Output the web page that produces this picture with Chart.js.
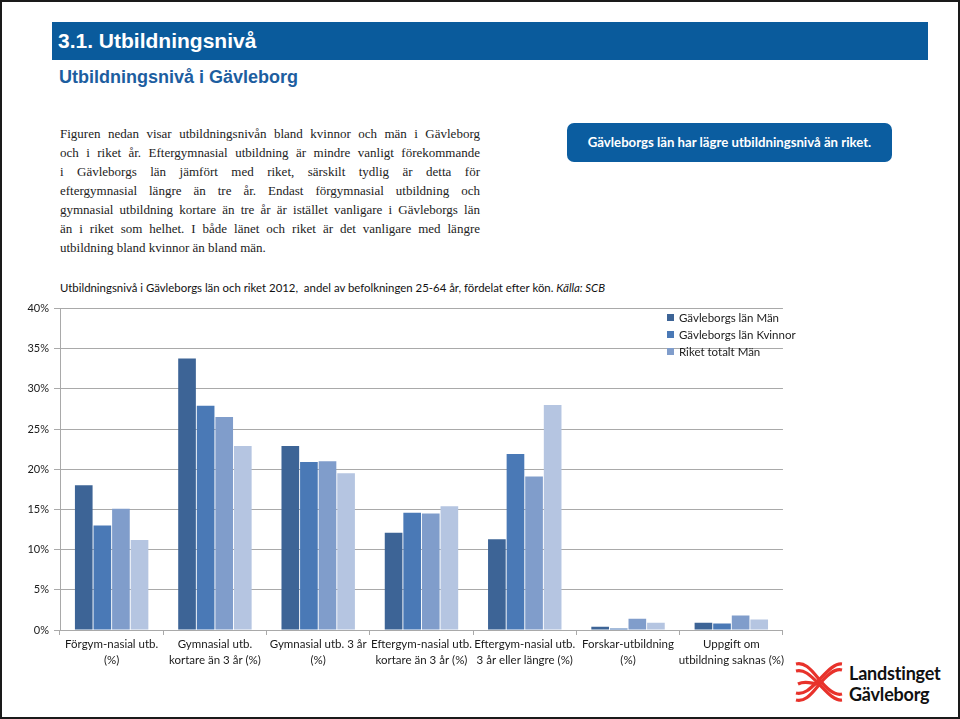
<!DOCTYPE html>
<html lang="sv">
<head>
<meta charset="UTF-8" />
<title>Utbildningsnivå i Gävleborg</title>
<script src="https://cdn.jsdelivr.net/npm/chart.js"></script>
<style>
    html, body { margin: 0; padding: 0; background: #fff; }
    .page {
        position: relative;
        width: 956px;
        height: 715px;
        border: 2px solid #1a1a1a;
        overflow: hidden;
        font-family: Lato, 'Liberation Sans', sans-serif;
    }
    .topbar {
        position: absolute; left: 50px; top: 20px; width: 876px; height: 38px;
        background: #0a5b9c;
        color: #fff;
        font-family: 'Liberation Sans Narrow', 'Liberation Sans', sans-serif;
        font-weight: 700;
        font-size: 21px;
        line-height: 38px;
        padding-left: 6px;
        box-sizing: border-box;
    }
    .subtitle {
        position: absolute; left: 57px; top: 65px;
        color: #1d5e9f;
        font-family: 'Liberation Sans Narrow', 'Liberation Sans', sans-serif;
        font-weight: 700;
        font-size: 18px;
    }
    .para {
        position: absolute; left: 58px; top: 122px; width: 420px;
        font-family: 'Liberation Serif', 'DejaVu Serif', serif;
        font-size: 13px;
        line-height: 19px;
        color: #222;
    }
    .para div { text-align: justify; text-align-last: justify; white-space: nowrap; }
    .para div.last { text-align-last: left; }
    .callout {
        position: absolute; left: 565px; top: 121px; width: 325px; height: 39px;
        background: #0b5da0;
        border-radius: 7px;
        color: #fff;
        font-weight: 700;
        font-size: 13.2px;
        line-height: 39px;
        text-align: center;
    }
    .ctitle {
        position: absolute; left: 58px; top: 279px;
        font-size: 11.4px;
        color: #111;
        white-space: nowrap;
    }
    .chartbox { position: absolute; left: 20px; top: 295px; width: 764px; height: 383px; }
    .legend { position: absolute; left: 665px; top: 307px; font-size: 11.5px; color: #222; }
    .legend div { height: 17px; line-height: 17px; white-space: nowrap; }
    .legend span.sw { display: inline-block; width: 7px; height: 7px; margin-right: 5px; vertical-align: 1px; }
    .logo { position: absolute; left: 792px; top: 658px; }
    .logotext {
        position: absolute; left: 847px; top: 661px;
        font-family: Lato, 'Liberation Sans', sans-serif;
        font-weight: 700; font-size: 18px; line-height: 21px; color: #111;
        letter-spacing: -0.2px;
    }
</style>
</head>
<body>
<div class="page">
    <div class="topbar">3.1. Utbildningsnivå</div>
    <div class="subtitle">Utbildningsnivå i Gävleborg</div>

    <div class="para">
        <div>Figuren nedan visar utbildningsnivån bland kvinnor och män i Gävleborg</div>
        <div>och i riket år. Eftergymnasial utbildning är mindre vanligt förekommande</div>
        <div>i Gävleborgs län jämfört med riket, särskilt tydlig är detta för</div>
        <div>eftergymnasial längre än tre år. Endast förgymnasial utbildning och</div>
        <div>gymnasial utbildning kortare än tre år är istället vanligare i Gävleborgs län</div>
        <div>än i riket som helhet. I både länet och riket är det vanligare med längre</div>
        <div class="last">utbildning bland kvinnor än bland män.</div>
    </div>

    <div class="callout">Gävleborgs län har lägre utbildningsnivå än riket.</div>

    <div class="ctitle">Utbildningsnivå i Gävleborgs län och riket 2012,&nbsp; andel av befolkningen 25-64 år, fördelat efter kön. <i>Källa: SCB</i></div>

    <div class="chartbox"><canvas id="chart" width="764" height="383"></canvas></div>
    <div class="legend" id="legend"></div>

    <svg class="logo" width="50" height="46" viewBox="0 0 50 46">
        <g fill="none" stroke="#e8322b" stroke-width="3.2">
            <path d="M2 4 C10 2 16 8 24 18 C32 28 40 36 48 34" />
            <path d="M2 11 C10 9 16 15 24 23 C32 31 40 41 48 40" />
            <path d="M2 40 C10 42 16 36 24 26 C32 16 40 8 48 10" />
            <path d="M2 33 C10 35 16 29 24 21 C32 13 40 3 48 4" />
            <path d="M4 24 C12 20 18 24 24 24" />
        </g>
    </svg>
    <div class="logotext">Landstinget<br>Gävleborg</div>
</div>

<script>
    // categories (two-line labels as on the x axis)
    const categories = [
        ['Förgym-nasial utb.', '(%)'],
        ['Gymnasial utb.', 'kortare än 3 år (%)'],
        ['Gymnasial utb. 3 år', '(%)'],
        ['Eftergym-nasial utb.', 'kortare än 3 år (%)'],
        ['Eftergym-nasial utb.', '3 år eller längre (%)'],
        ['Forskar-utbildning', '(%)'],
        ['Uppgift om', 'utbildning saknas (%)']
    ];

    // values in percent
    const gavleMan    = [18.0, 33.8, 22.9, 12.1, 11.3, 0.4, 0.9];
    const gavleKvinna = [13.0, 27.9, 20.9, 14.6, 21.9, 0.2, 0.8];
    const riketMan    = [15.1, 26.5, 21.0, 14.5, 19.1, 1.4, 1.8];
    const riketKvinna = [11.2, 22.9, 19.5, 15.4, 28.0, 0.9, 1.3];

    const seriesLabels = ['Gävleborgs län Män', 'Gävleborgs län Kvinnor', 'Riket totalt Män', 'Riket totalt Kvinnor'];
    const seriesColors = ['#3d6496', '#4a79b6', '#809dcb', '#b5c5e1'];
    const yTicks = [0, 5, 10, 15, 20, 25, 30, 35, 40];

    const allSeries = [gavleMan, gavleKvinna, riketMan, riketKvinna];
    const datasets = allSeries.map((d, i) => ({
        label: seriesLabels[i],
        data: d,
        backgroundColor: seriesColors[i],
        borderWidth: 0,
        categoryPercentage: 0.72,
        barPercentage: 0.95
    }));

    const gridColor = '#a9a9a9';
    const ctx = document.getElementById('chart').getContext('2d');
    const chart = new Chart(ctx, {
        type: 'bar',
        data: { labels: categories, datasets: datasets },
        options: {
            responsive: false,
            animation: false,
            layout: { padding: { top: 8, right: 0, left: 0, bottom: 0 } },
            plugins: { legend: { display: false }, tooltip: { enabled: false } },
            scales: {
                x: {
                    grid: { display: true, drawOnChartArea: false, drawTicks: true, tickLength: 5, color: gridColor, offset: true },
                    border: { display: true, color: gridColor },
                    ticks: {
                        autoSkip: false, maxRotation: 0, minRotation: 0, padding: 2,
                        color: '#1a1a1a',
                        font: { family: 'Lato', size: 11.5, lineHeight: 1.35 }
                    },
                    afterFit: s => { s.height = 50; }
                },
                y: {
                    min: 0, max: 40,
                    afterBuildTicks: s => { s.ticks = yTicks.map(v => ({ value: v })); },
                    grid: { color: gridColor, tickLength: 6 },
                    border: { display: true, color: gridColor },
                    ticks: {
                        padding: 5,
                        color: '#1a1a1a',
                        font: { family: 'Lato', size: 11 },
                        callback: v => v + '%'
                    },
                    afterFit: s => { s.width = 38; }
                }
            }
        }
    });

    // legend (the reference shows only the first three series)
    const legend = document.getElementById('legend');
    for (let i = 0; i < 3; i++) {
        const row = document.createElement('div');
        row.innerHTML = '<span class="sw" style="background:' + seriesColors[i] + '"></span>' + seriesLabels[i];
        legend.appendChild(row);
    }
</script>
</body>
</html>
